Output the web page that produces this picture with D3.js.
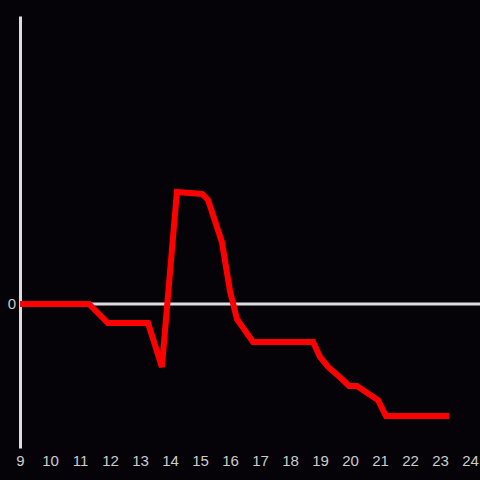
<!DOCTYPE html>
<html>
<head>
<meta charset="utf-8">
<script src="https://cdn.jsdelivr.net/npm/d3@7"></script>
<style>
  html, body { margin: 0; padding: 0; background: #050307; }
  svg { display: block; }
</style>
</head>
<body>
<svg id="svg" width="480" height="480"></svg>
<script>
// hours on the x axis and the series value at each hour
const HOURS  = [9.0, 11.3, 11.93, 13.27, 13.73, 14.23, 15.07, 15.27, 15.73, 16.0, 16.23, 16.77, 18.77, 19.0, 19.27, 19.73, 19.97, 20.23, 20.93, 21.2, 23.3];
const VALUES = [0, 0, -1.9, -1.9, -6.3, 11.2, 11.0, 10.4, 6.2, 1.3, -1.5, -3.8, -3.8, -5.3, -6.3, -7.5, -8.2, -8.2, -9.6, -11.2, -11.2];
const X_TICKS = [9, 10, 11, 12, 13, 14, 15, 16, 17, 18, 19, 20, 21, 22, 23, 24];
const Y_TICKS = [0];

const SVG = d3.select("#svg");
const WIDTH = 480;
const FONT = "Liberation Sans, Arial, sans-serif";

let x_scale = d3.scaleLinear().domain([9, 24]).range([20, 470]);
let y_scale = d3.scaleLinear().domain([-14.4, 28.8]).range([448, 16]);

let points = HOURS.map((h, i) => [h, VALUES[i]]);

//Zero line
SVG.append("line")
    .attr("x1", x_scale(9)).attr("x2", WIDTH)
    .attr("y1", y_scale(0)).attr("y2", y_scale(0))
    .attr("stroke", "#dddddd")
    .attr("stroke-width", 3);

//Y axis (line only, plus the 0 label)
let y_axis = d3.axisLeft(y_scale).tickValues(Y_TICKS).tickSize(0).tickPadding(4);
let gy = SVG.append("g").attr("transform", "translate(" + x_scale(9) + ",0)").call(y_axis);
gy.select(".domain").attr("stroke", "#dddddd").attr("stroke-width", 3);
gy.selectAll("text").attr("fill", "#cccccc").attr("font-size", 15).attr("font-family", FONT);

//X axis labels only
let x_axis = d3.axisBottom(x_scale).tickValues(X_TICKS).tickSize(0).tickPadding(7);
let gx = SVG.append("g").attr("transform", "translate(0,448)").call(x_axis);
gx.select(".domain").remove();
gx.selectAll("text").attr("fill", "#cccccc").attr("font-size", 15).attr("font-family", FONT);

//Series line
let line = d3.line().x(d => x_scale(d[0])).y(d => y_scale(d[1]));
SVG.append("path")
    .datum(points)
    .attr("d", line)
    .attr("fill", "none")
    .attr("stroke", "#ff0000")
    .attr("stroke-width", 6);
</script>
</body>
</html>
